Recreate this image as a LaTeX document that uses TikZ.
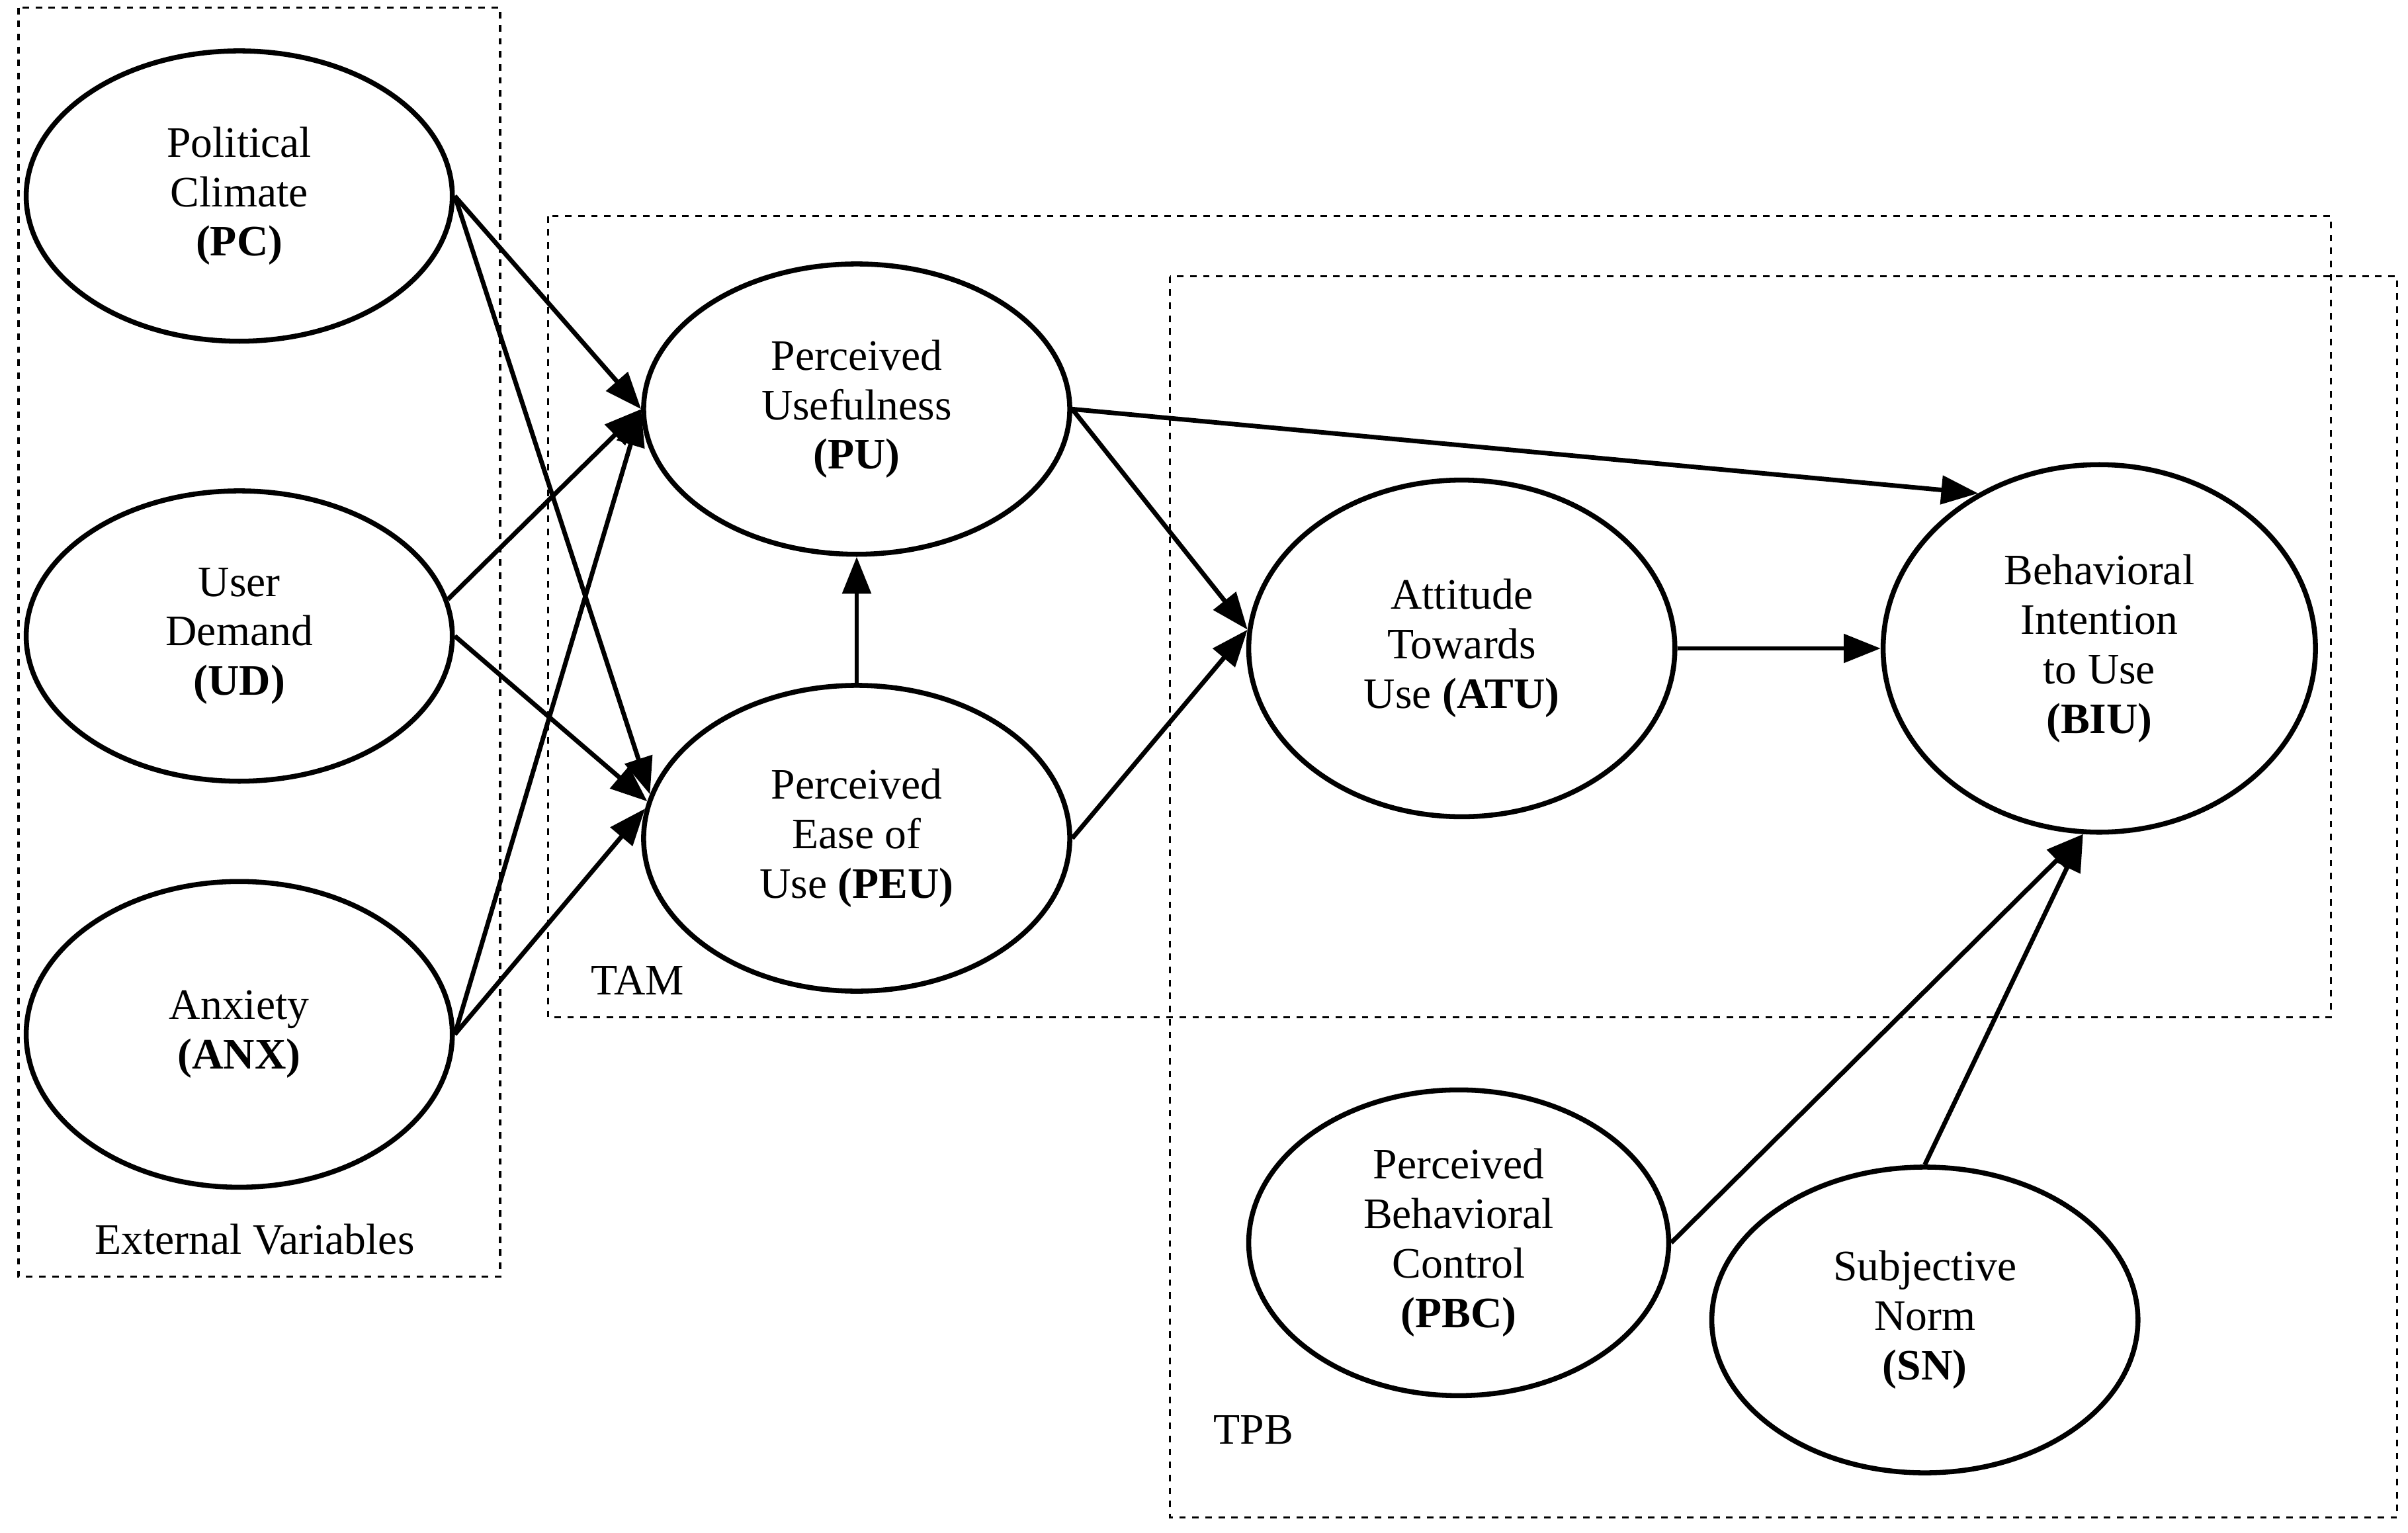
\documentclass[tikz,border=0pt]{standalone}
\usepackage{fontspec}
\setmainfont{Liberation Serif}
\usetikzlibrary{shapes.geometric,arrows.meta}
\tikzset{
  construct/.style={ellipse, draw, line width=2.3pt, inner sep=0pt, align=center,
    minimum width=6.9cm, minimum height=4.7cm, font=\fontsize{20}{22.8}\selectfont},
  link/.style={-{Triangle[length=17pt,width=13pt]}, line width=2.1pt},
  group/.style={draw, dashed, line width=1pt},
  grouplabel/.style={font=\fontsize{20}{22.8}\selectfont}
}
\begin{document}
\begin{tikzpicture}[x=0.025cm, y=-0.025cm]
  \useasboundingbox (0,0) rectangle (1560,993);
  % groups
  \draw[group] (12,5) rectangle (324,827);
  \draw[group] (355,140) rectangle (1510,659);
  \draw[group] (758,179) rectangle (1553,983);
  \node[grouplabel] (extlab) at (165,803) {External Variables};
  \node[grouplabel] (tamlab) at (413,635) {TAM};
  \node[grouplabel] (tpblab) at (812,926) {TPB};
  % constructs
  \node[construct] (PC) at (155,127) {Political\\Climate\\\textbf{(PC)}};
  \node[construct] (UD) at (155,412) {User\\Demand\\\textbf{(UD)}};
  \node[construct, minimum height=4.95cm] (ANX) at (155,670) {Anxiety\\\textbf{(ANX)}};
  \node[construct] (PU) at (555,265) {Perceived\\Usefulness\\\textbf{(PU)}};
  \node[construct, minimum height=4.95cm] (PEU) at (555,543) {Perceived\\Ease of\\Use \textbf{(PEU)}};
  \node[construct, minimum height=5.45cm] (ATU) at (947,420) {Attitude\\Towards\\Use \textbf{(ATU)}};
  \node[construct, minimum width=7cm, minimum height=5.95cm] (BIU) at (1360,420) {Behavioral\\Intention\\to Use\\\textbf{(BIU)}};
  \node[construct, minimum width=6.8cm, minimum height=4.95cm] (PBC) at (945,805) {Perceived\\Behavioral\\Control\\\textbf{(PBC)}};
  \node[construct, minimum height=4.95cm] (SN) at (1247,855) {Subjective\\Norm\\\textbf{(SN)}};
  % paths
  \draw[link] (PC.east) -- (PU.west);
  \draw[link] (PC.east) -- (PEU.168);
  \draw[link] (UD.10) -- (PU.west);
  \draw[link] (UD.east) -- (PEU.170);
  \draw[link] (ANX.east) -- (PU.west);
  \draw[link] (ANX.east) -- (PEU.172);
  \draw[link] (PEU.north) -- (PU.south);
  \draw[link] (PU.east) -- (BIU.128);
  \draw[link] (PU.east) -- (ATU.175);
  \draw[link] (PEU.east) -- (ATU.175);
  \draw[link] (ATU.east) -- (BIU.west);
  \draw[link] (PBC.east) -- (BIU.265);
  \draw[link] (SN.north) -- (BIU.265);
\end{tikzpicture}
\end{document}
